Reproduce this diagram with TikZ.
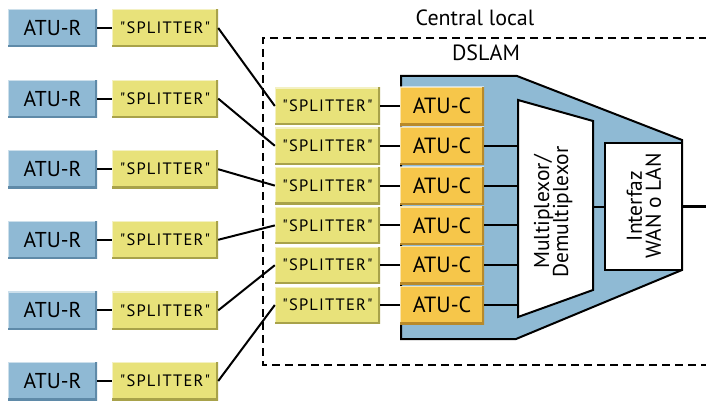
\documentclass[tikz,border=0pt]{standalone}
\usepackage{fontspec}
\setmainfont{PT Sans}
\newfontfamily\splitfont[LetterSpace=7]{PT Sans}
\definecolor{aturfill}{HTML}{8FB9D4}
\definecolor{aturdark}{HTML}{5F8AA8}
\definecolor{splfill}{HTML}{E8E27A}
\definecolor{spldark}{HTML}{A8A24A}
\definecolor{atucfill}{HTML}{F6C64A}
\definecolor{atucdark}{HTML}{B88A2A}
\definecolor{dslamfill}{HTML}{8FBAD4}
\tikzset{
  bev/.style 2 args={fill=#1, inner sep=0pt,
    path picture={
      \draw[white, opacity=0.55, line width=2.4pt]
        (path picture bounding box.south west) -- (path picture bounding box.north west)
        -- (path picture bounding box.north east);
      \draw[#2, line width=3.6pt]
        (path picture bounding box.north east) -- (path picture bounding box.south east)
        -- (path picture bounding box.south west);}},
  aturbox/.style={bev={aturfill}{aturdark}, minimum width=89pt, minimum height=38pt,
    font=\fontsize{21.5}{22}\selectfont},
  splbox/.style={bev={splfill}{spldark}, minimum width=106pt, minimum height=38pt,
    font=\splitfont\fontsize{16.5}{17}\selectfont},
  splboxi/.style={splbox, minimum width=105pt, minimum height=37pt},
  atucbox/.style={bev={atucfill}{atucdark}, minimum width=84pt, minimum height=38pt,
    font=\fontsize{22}{23}\selectfont},
  conn/.style={line width=2pt, black},
  outline/.style={line width=2pt, black},
  lbl/.style={inner sep=0pt, font=\fontsize{22}{23}\selectfont},
  rot/.style={rotate=90, align=center, inner sep=0pt, font=\fontsize{21.5}{21}\selectfont},
}
\begin{document}
\begin{tikzpicture}[x=1pt,y=-1pt]
\useasboundingbox (0,0) rectangle (706,401);
\clip (0,0) rectangle (706,401);
% central local dashed frame
\draw[line width=1.8pt, dash pattern=on 8pt off 5pt] (720,38) -- (263,38) -- (263,365) -- (720,365);
\node[lbl] (central) at (475,18) {Central local};
\node[lbl] (dslam) at (486,53) {DSLAM};
% DSLAM body
\draw[outline, fill=dslamfill] (401,76) -- (517,76) -- (682,140) -- (682,270) -- (516,339) -- (401,339) -- cycle;
% multiplexer
\draw[outline, fill=white] (518,100) -- (593,121) -- (593,290) -- (518,317) -- cycle;
\coordinate (muxL) at (518,200);
\coordinate (muxR) at (593,206.5);
\node[rot] (muxtxt) at (553,212) {Multiplexor/\\[-2pt]Demultiplexor};
% interface
\node[draw, outline, fill=white, minimum width=77pt, minimum height=127pt, inner sep=0pt] (wan) at (643.5,206.5) {};
\node[rot] (wantxt) at (644,206) {Interfaz\\[-2pt]WAN o LAN};
\coordinate (out) at (712,206.5);
\draw[conn] (muxR) -- (wan.west);
\draw[conn, line width=2.6pt] (wan.east) -- (out);
% remote side
\foreach \i/\y in {1/28,2/98.6,3/169.2,4/239.8,5/310.4,6/381}{
  \node[aturbox] (r\i) at (52.5,\y) {ATU-R};
  \node[splbox] (sl\i) at (165,\y) {"SPLITTER"};
  \draw[conn] (r\i) -- (sl\i);
}
% central side
\foreach \i/\y in {1/106,2/145.8,3/185.6,4/225.4,5/265.2,6/305}{
  \node[splboxi] (si\i) at (327.5,\y) {"SPLITTER"};
  \node[atucbox] (c\i) at (442,\y) {ATU-C};
  \draw[conn] (si\i) -- (c\i);
  \draw[conn] (sl\i.east) -- (si\i.west);
}
\foreach \i in {2,...,6}{
  \draw[conn] (c\i.east) -- (c\i.east -| muxL);
}
\end{tikzpicture}
\end{document}
